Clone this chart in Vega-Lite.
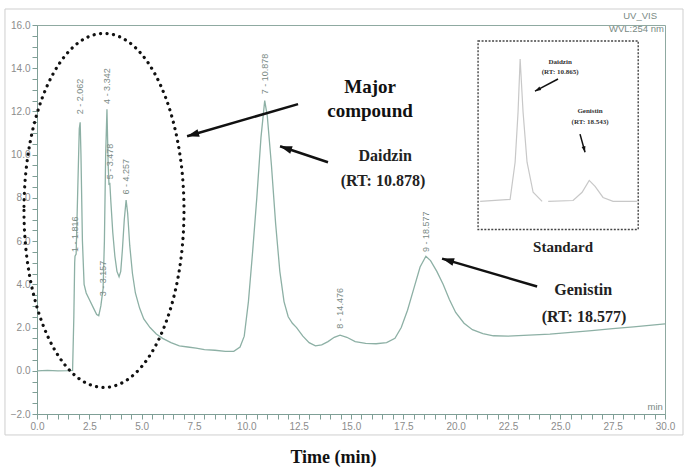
{
"$schema": "https://vega.github.io/schema/vega-lite/v6.json",
"width": 628,
"height": 389,
"autosize": {"type": "none"},
"padding": {"left": 37, "top": 25, "right": 32, "bottom": 54},
"background": "#ffffff",
"config": {"view": {"stroke": "#8fa9a1", "strokeWidth": 1}},
"encoding": {
  "x": {"field": "t", "type": "quantitative",
    "scale": {"domain": [0, 30], "nice": false, "zero": false},
    "axis": {"title": "Time (min)",
      "values": [0,0.5,1,1.5,2,2.5,3,3.5,4,4.5,5,5.5,6,6.5,7,7.5,8,8.5,9,9.5,10,10.5,11,11.5,12,12.5,13,13.5,14,14.5,15,15.5,16,16.5,17,17.5,18,18.5,19,19.5,20,20.5,21,21.5,22,22.5,23,23.5,24,24.5,25,25.5,26,26.5,27,27.5,28,28.5,29,29.5,30],
      "labelExpr": "datum.value % 2.5 === 0 ? format(datum.value, '.1f') : ''",
      "labelOverlap": false, "labelFlush": false, "grid": false,
      "domainColor": "#7f9f96", "tickColor": "#7f9f96", "tickSize": 5,
      "labelColor": "#8c8c8c", "labelFont": "Liberation Sans", "labelFontSize": 10, "labelPadding": 2,
      "titleFont": "Liberation Serif", "titleFontSize": 18, "titleFontWeight": "bold", "titleColor": "#111111",
      "titleX": 296, "titleY": 43, "titleBaseline": "middle",
      "encode": {"ticks": {"update": {"y2": {"signal": "datum.value % 2.5 === 0 ? 5 : 3"}}}}
    }},
  "y": {"field": "v", "type": "quantitative",
    "scale": {"domain": [-2, 16], "nice": false, "zero": false},
    "axis": {"title": null,
      "values": [-2,-1.5,-1,-0.5,0,0.5,1,1.5,2,2.5,3,3.5,4,4.5,5,5.5,6,6.5,7,7.5,8,8.5,9,9.5,10,10.5,11,11.5,12,12.5,13,13.5,14,14.5,15,15.5,16],
      "labelExpr": "datum.value % 2 === 0 ? format(datum.value, '.1f') : ''",
      "labelOverlap": false, "labelFlush": false, "grid": false,
      "domainColor": "#7f9f96", "tickColor": "#7f9f96", "tickSize": 5,
      "labelColor": "#8c8c8c", "labelFont": "Liberation Sans", "labelFontSize": 10, "labelPadding": 2,
      "encode": {"ticks": {"update": {"x2": {"signal": "datum.value % 2 === 0 ? -5 : -3"}}}}
    }}
},
"layer": [
  {
    "data": {"values": [{"t": -1.53, "t2": 30.86, "v": 16.74, "v2": -2.97}]},
    "mark": {"type": "rect", "fill": "transparent", "stroke": "#cfcfcf", "strokeWidth": 1},
    "encoding": {"x2": {"field": "t2"}, "y2": {"field": "v2"}}
  },
  {
    "data": {"values": [
      {"t":0,"v":0},{"t":0.5,"v":0.02},{"t":1,"v":0},{"t":1.5,"v":0.01},{"t":1.7,"v":0.02},
      {"t":1.76,"v":2.5},{"t":1.8,"v":5.0},{"t":1.816,"v":5.3},{"t":1.87,"v":5.4},{"t":1.95,"v":8.5},
      {"t":2.02,"v":11.2},{"t":2.062,"v":11.5},{"t":2.1,"v":10.0},{"t":2.17,"v":6.0},{"t":2.25,"v":4.0},
      {"t":2.35,"v":3.6},{"t":2.5,"v":3.3},{"t":2.7,"v":2.9},{"t":2.85,"v":2.6},{"t":2.95,"v":2.55},
      {"t":3.05,"v":3.0},{"t":3.157,"v":3.8},{"t":3.22,"v":6.0},{"t":3.28,"v":10.0},{"t":3.342,"v":12.1},
      {"t":3.4,"v":9.5},{"t":3.44,"v":8.6},{"t":3.478,"v":8.7},{"t":3.53,"v":7.8},{"t":3.62,"v":6.4},
      {"t":3.72,"v":5.3},{"t":3.82,"v":4.6},{"t":3.92,"v":4.35},{"t":4.0,"v":4.6},{"t":4.08,"v":5.6},
      {"t":4.17,"v":7.0},{"t":4.257,"v":7.9},{"t":4.33,"v":7.3},{"t":4.43,"v":5.8},{"t":4.56,"v":4.5},
      {"t":4.7,"v":3.6},{"t":4.9,"v":2.9},{"t":5.1,"v":2.4},{"t":5.4,"v":2.0},{"t":5.7,"v":1.7},
      {"t":6.0,"v":1.5},{"t":6.4,"v":1.3},{"t":6.8,"v":1.15},{"t":7.2,"v":1.1},{"t":7.6,"v":1.05},
      {"t":8.0,"v":0.98},{"t":8.5,"v":0.95},{"t":9.0,"v":0.9},{"t":9.4,"v":0.9},{"t":9.7,"v":1.1},
      {"t":9.9,"v":1.6},{"t":10.1,"v":3.2},{"t":10.3,"v":5.5},{"t":10.5,"v":8.0},{"t":10.7,"v":10.8},
      {"t":10.878,"v":12.5},{"t":11.0,"v":11.8},{"t":11.2,"v":9.5},{"t":11.4,"v":6.8},{"t":11.6,"v":4.6},
      {"t":11.8,"v":3.2},{"t":12.0,"v":2.5},{"t":12.2,"v":2.2},{"t":12.4,"v":2.0},{"t":12.7,"v":1.6},
      {"t":13.0,"v":1.3},{"t":13.3,"v":1.15},{"t":13.6,"v":1.2},{"t":13.9,"v":1.35},{"t":14.2,"v":1.55},
      {"t":14.476,"v":1.65},{"t":14.8,"v":1.55},{"t":15.2,"v":1.35},{"t":15.7,"v":1.27},{"t":16.2,"v":1.25},
      {"t":16.7,"v":1.3},{"t":17.1,"v":1.5},{"t":17.4,"v":2.0},{"t":17.7,"v":2.8},{"t":18.0,"v":3.8},
      {"t":18.3,"v":4.8},{"t":18.577,"v":5.3},{"t":18.8,"v":5.1},{"t":19.1,"v":4.6},{"t":19.4,"v":4.0},
      {"t":19.7,"v":3.3},{"t":20.0,"v":2.7},{"t":20.4,"v":2.2},{"t":20.8,"v":1.9},{"t":21.3,"v":1.72},
      {"t":21.8,"v":1.62},{"t":22.5,"v":1.6},{"t":23.5,"v":1.65},{"t":24.5,"v":1.7},{"t":25.5,"v":1.78},
      {"t":26.5,"v":1.86},{"t":27.5,"v":1.95},{"t":28.5,"v":2.03},{"t":29.5,"v":2.12},{"t":30.0,"v":2.17}
    ]},
    "mark": {"type": "line", "color": "#8db0a5", "strokeWidth": 1.3}
  },
  {
    "data": {"values": [
      {"seg":"a","t":21.17,"v":7.84},{"seg":"a","t":22.6,"v":7.93},{"seg":"a","t":22.84,"v":9.65},
      {"seg":"a","t":22.98,"v":11.97},{"seg":"a","t":23.08,"v":14.43},{"seg":"a","t":23.22,"v":11.97},
      {"seg":"a","t":23.41,"v":9.65},{"seg":"a","t":23.7,"v":8.26},{"seg":"a","t":24.13,"v":7.84},
      {"seg":"b","t":24.42,"v":7.84},{"seg":"b","t":25.61,"v":7.88},{"seg":"b","t":26.04,"v":8.26},
      {"seg":"b","t":26.38,"v":8.81},{"seg":"b","t":26.66,"v":8.53},{"seg":"b","t":27.04,"v":8.02},
      {"seg":"b","t":27.52,"v":7.84},{"seg":"b","t":28.66,"v":7.84}
    ]},
    "mark": {"type": "line", "color": "#c8c8c8", "strokeWidth": 1.2},
    "encoding": {"detail": {"field": "seg"}}
  },
  {
    "data": {"values": [{"t": 21.07, "t2": 28.72, "v": 15.26, "v2": 6.54}]},
    "mark": {"type": "rect", "fill": "transparent", "stroke": "#444444", "strokeWidth": 1.4, "strokeDash": [2, 1.5]},
    "encoding": {"x2": {"field": "t2"}, "y2": {"field": "v2"}}
  },
  {
    "data": {"values": [{"t": 3.2, "v": 7.42}]},
    "mark": {"type": "point", "shape": "M-0.452,0A0.452,1 0 1,0 0.452,0A0.452,1 0 1,0 -0.452,0",
      "size": 125316, "filled": false, "stroke": "#111111", "strokeWidth": 3.2,
      "strokeDash": [0.1, 6.4], "strokeCap": "round", "opacity": 1}
  },
  {
    "data": {"values": [
      {"t":1.816,"v":5.5,"label":"1 - 1.816"},
      {"t":2.062,"v":11.87,"label":"2 - 2.062"},
      {"t":3.157,"v":3.45,"label":"3 - 3.157"},
      {"t":3.342,"v":12.35,"label":"4 - 3.342"},
      {"t":3.478,"v":8.86,"label":"5 - 3.478"},
      {"t":4.257,"v":8.16,"label":"6 - 4.257"},
      {"t":10.878,"v":12.8,"label":"7 - 10.878"},
      {"t":14.476,"v":1.95,"label":"8 - 14.476"},
      {"t":18.577,"v":5.5,"label":"9 - 18.577"}
    ]},
    "mark": {"type": "text", "angle": 270, "align": "left", "baseline": "middle",
      "font": "Liberation Sans", "fontSize": 9, "color": "#7a8a85"},
    "encoding": {"text": {"field": "label"}}
  },
  {
    "data": {"values": [
      {"t": 12.47, "v": 12.34, "t2": 7.17, "v2": 10.85},
      {"t": 13.9, "v": 9.65, "t2": 11.61, "v2": 10.39},
      {"t": 23.89, "v": 3.9, "t2": 19.35, "v2": 5.19}
    ]},
    "mark": {"type": "rule", "color": "#111111", "strokeWidth": 2.5},
    "encoding": {"x2": {"field": "t2"}, "y2": {"field": "v2"}}
  },
  {
    "data": {"values": [
      {"t": 7.17, "v": 10.85, "ang": 254},
      {"t": 11.61, "v": 10.39, "ang": 288},
      {"t": 19.35, "v": 5.19, "ang": 286}
    ]},
    "mark": {"type": "point", "shape": "M0,0L0.65,2L-0.65,2Z", "size": 144, "filled": true, "color": "#111111", "opacity": 1},
    "encoding": {"angle": {"field": "ang", "type": "quantitative", "scale": null}}
  },
  {
    "data": {"values": [
      {"t": 24.89, "v": 13.5, "t2": 23.79, "v2": 12.94},
      {"t": 25.94, "v": 10.95, "t2": 26.18, "v2": 10.11}
    ]},
    "mark": {"type": "rule", "color": "#111111", "strokeWidth": 1.5},
    "encoding": {"x2": {"field": "t2"}, "y2": {"field": "v2"}}
  },
  {
    "data": {"values": [
      {"t": 23.79, "v": 12.94, "ang": 242},
      {"t": 26.18, "v": 10.11, "ang": 165}
    ]},
    "mark": {"type": "point", "shape": "M0,0L0.65,2L-0.65,2Z", "size": 36, "filled": true, "color": "#111111", "opacity": 1},
    "encoding": {"angle": {"field": "ang", "type": "quantitative", "scale": null}}
  },
  {
    "data": {"values": [
      {"t": 15.91, "v": 13.13, "label": "Major"},
      {"t": 15.91, "v": 12.01, "label": "compound"}
    ]},
    "mark": {"type": "text", "font": "Liberation Serif", "fontSize": 19, "fontWeight": "bold", "color": "#111111", "align": "center", "baseline": "middle"},
    "encoding": {"text": {"field": "label"}}
  },
  {
    "data": {"values": [
      {"t": 16.63, "v": 9.93, "label": "Daidzin"},
      {"t": 16.53, "v": 8.77, "label": "(RT: 10.878)"},
      {"t": 26.09, "v": 3.76, "label": "Genistin"},
      {"t": 26.13, "v": 2.5, "label": "(RT: 18.577)"}
    ]},
    "mark": {"type": "text", "font": "Liberation Serif", "fontSize": 16, "fontWeight": "bold", "color": "#222222", "align": "center", "baseline": "middle"},
    "encoding": {"text": {"field": "label"}}
  },
  {
    "data": {"values": [{"t": 25.13, "v": 5.75, "label": "Standard"}]},
    "mark": {"type": "text", "font": "Liberation Serif", "fontSize": 15, "fontWeight": "bold", "color": "#222222", "align": "center", "baseline": "middle"},
    "encoding": {"text": {"field": "label"}}
  },
  {
    "data": {"values": [
      {"t": 24.99, "v": 14.29, "label": "Daidzin"},
      {"t": 24.99, "v": 13.82, "label": "(RT: 10.865)"},
      {"t": 26.42, "v": 12.01, "label": "Genistin"},
      {"t": 26.42, "v": 11.5, "label": "(RT: 18.543)"}
    ]},
    "mark": {"type": "text", "font": "Liberation Serif", "fontSize": 7, "fontWeight": "bold", "color": "#333333", "align": "center", "baseline": "middle"},
    "encoding": {"text": {"field": "label"}}
  },
  {
    "data": {"values": [
      {"t": 29.62, "v": 16.42, "label": "UV_VIS"},
      {"t": 29.95, "v": 15.82, "label": "WVL:254 nm"},
      {"t": 29.9, "v": -1.67, "label": "min"}
    ]},
    "mark": {"type": "text", "font": "Liberation Sans", "fontSize": 9.5, "color": "#7a8a85", "align": "right", "baseline": "middle"},
    "encoding": {"text": {"field": "label"}}
  }
]
}
